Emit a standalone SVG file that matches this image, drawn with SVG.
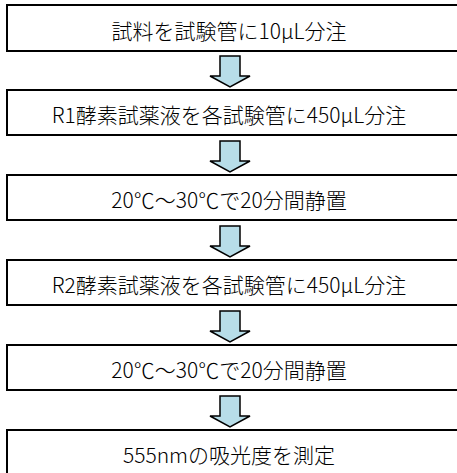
<svg xmlns="http://www.w3.org/2000/svg" width="457" height="473" viewBox="0 0 457 473">
<style>
.box{fill:#fff;stroke:#000;stroke-width:2}
.t{font-family:"Noto Sans CJK JP","Noto Sans CJK SC",sans-serif;font-size:21px;font-weight:300;fill:#000;text-anchor:middle;dominant-baseline:central}
.arr{fill:#b7dde8;stroke:#000;stroke-width:1.5;stroke-linejoin:miter}
</style>
<rect width="457" height="473" fill="#fff"/>
<defs>
<path id="a" class="arr" d="M220,0 H240 V20 H250 L230,31 L210,20 H220 Z"/>
</defs>
<g id="n1"><rect class="box" x="7" y="5" width="460" height="46"/><text class="t" x="229" y="30">試料を試験管に10μL分注</text></g>
<g id="n2"><rect class="box" x="7" y="90" width="460" height="45"/><text class="t" x="229" y="114">R1酵素試薬液を各試験管に450μL分注</text></g>
<g id="n3"><rect class="box" x="7" y="175" width="460" height="45"/><text class="t" x="229" y="199">20℃～30℃で20分間静置</text></g>
<g id="n4"><rect class="box" x="7" y="260" width="460" height="45"/><text class="t" x="229" y="284">R2酵素試薬液を各試験管に450μL分注</text></g>
<g id="n5"><rect class="box" x="7" y="345" width="460" height="45"/><text class="t" x="229" y="369">20℃～30℃で20分間静置</text></g>
<g id="n6"><rect class="box" x="7" y="430" width="460" height="46"/><text class="t" x="229" y="454">555nmの吸光度を測定</text></g>
<g id="connectors">
<use href="#a" y="56"/>
<use href="#a" y="141"/>
<use href="#a" y="226"/>
<use href="#a" y="311"/>
<use href="#a" y="396"/>
</g>
</svg>
